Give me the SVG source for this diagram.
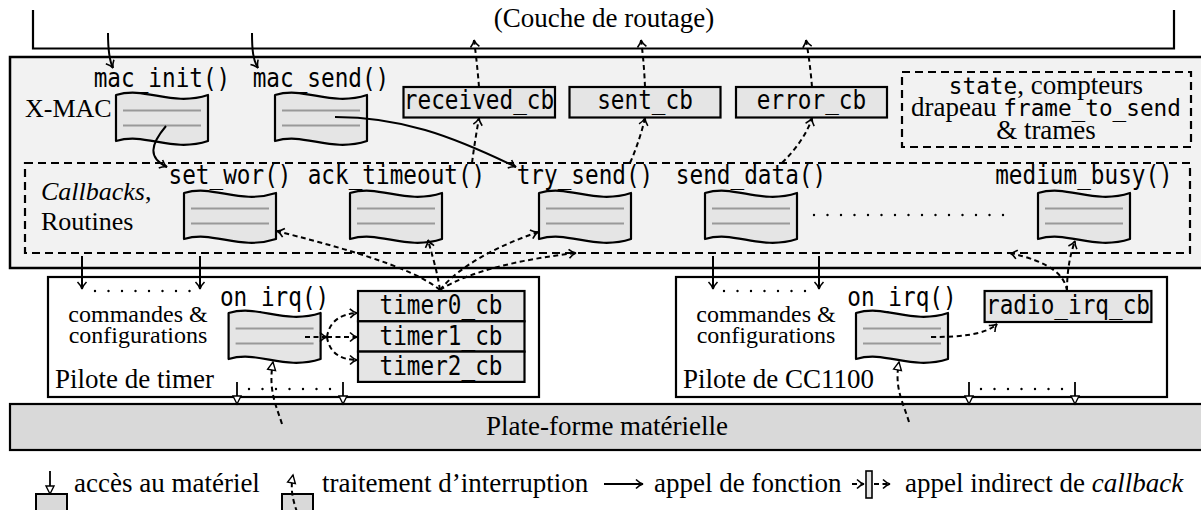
<svg xmlns="http://www.w3.org/2000/svg" width="1201" height="510" viewBox="0 0 1201 510">
<defs>
<style>
.s{font-family:"Liberation Serif","Times New Roman",serif;font-size:27px;fill:#000}
.sm{font-size:24px}
.sn{font-size:26px}
.m{font-family:"DejaVu Sans Mono","Liberation Mono",monospace;font-size:26px;fill:#000}
.mt{font-family:"DejaVu Sans Mono","Liberation Mono",monospace;font-size:22.7px}
.mid{text-anchor:middle}
.doc{fill:#e5e5e5;stroke:#000;stroke-width:2.2;stroke-linejoin:round}
.dl{stroke:#999;stroke-width:2;fill:none}
.cb{fill:#e5e5e5;stroke:#000;stroke-width:2.2}
.box{fill:#fff;stroke:#000;stroke-width:2.2}
.dbox{fill:none;stroke:#000;stroke-width:2.2;stroke-dasharray:8 5}
.call{fill:none;stroke:#000;stroke-width:2;marker-end:url(#arr)}
.ind{fill:none;stroke:#000;stroke-width:2;stroke-dasharray:5 3.5;marker-end:url(#arr)}
.irq{fill:none;stroke:#000;stroke-width:2;stroke-dasharray:5 3.5;marker-end:url(#tri)}
.hw{fill:none;stroke:#000;stroke-width:1.8;marker-end:url(#tri)}
.dot{fill:none;stroke:#000;stroke-width:2.4;stroke-linecap:round;stroke-dasharray:0 13.5}
</style>
<marker id="arr" markerUnits="userSpaceOnUse" viewBox="-9 -6 11 12" refX="0" refY="0" markerWidth="11" markerHeight="12" orient="auto" overflow="visible">
<path d="M-7,-4.5 C-4,-1.5 -2,-0.5 0,0 C-2,0.5 -4,1.5 -7,4.5" fill="none" stroke="#000" stroke-width="1.6" stroke-dasharray="none"/>
</marker>
<marker id="tri" markerUnits="userSpaceOnUse" viewBox="-10 -6 12 12" refX="0" refY="0" markerWidth="12" markerHeight="12" orient="auto" overflow="visible">
<path d="M-8,-4 L0,0 L-8,4 Z" fill="#fff" stroke="#000" stroke-width="1.4" stroke-dasharray="none"/>
</marker>
<g id="tape">
<path class="doc" d="M0,0 C30,-9 55,12 92,0 L92,46 C55,58 30,37 0,46 Z"/>
<path class="dl" d="M7,15.5 H85 M7,30.5 H85"/>
</g>
</defs>

<rect width="1201" height="510" fill="#fff"/>

<g id="routing">
<path d="M33,10 V48.5 H1174 V10" fill="none" stroke="#000" stroke-width="2.2"/>
<text class="s mid" x="604" y="27">(Couche de routage)</text>
</g>

<g id="xmac">
<rect x="10" y="57" width="1200" height="211" fill="#f2f2f2" stroke="#000" stroke-width="2.5"/>
<text class="s sn" x="25" y="117">X-MAC</text>
</g>

<g id="state">
<rect class="dbox" x="902" y="72" width="289" height="75"/>
<text class="s mid" x="1046" y="94"><tspan class="mt">state</tspan>, compteurs</text>
<text class="s mid" x="1046" y="116">drapeau <tspan class="mt">frame_to_send</tspan></text>
<text class="s mid" x="1046" y="139">&amp; trames</text>
</g>

<g id="callbacks">
<rect class="dbox" x="25" y="163" width="1165" height="90"/>
<text class="s sn" x="41" y="200"><tspan font-style="italic">Callbacks</tspan>,</text>
<text class="s sn" x="41" y="230">Routines</text>
<path class="dot" d="M814,215 H1014"/>
</g>

<g id="mac_init"><use href="#tape" transform="translate(116,95)"/><text class="m mid" x="162" y="87" textLength="136.6" lengthAdjust="spacingAndGlyphs">mac_init()</text></g>
<g id="mac_send"><use href="#tape" transform="translate(275,95)"/><text class="m mid" x="321" y="87" textLength="136.6" lengthAdjust="spacingAndGlyphs">mac_send()</text></g>
<g id="received_cb"><rect class="cb" x="403.5" y="87" width="151.5" height="30.5"/><text class="m mid" x="479" y="109" textLength="150.3" lengthAdjust="spacingAndGlyphs">received_cb</text></g>
<g id="sent_cb"><rect class="cb" x="569.5" y="87" width="151" height="30.5"/><text class="m mid" x="645" y="109" textLength="95.6" lengthAdjust="spacingAndGlyphs">sent_cb</text></g>
<g id="error_cb"><rect class="cb" x="736" y="87" width="151" height="30.5"/><text class="m mid" x="811.5" y="109" textLength="109.3" lengthAdjust="spacingAndGlyphs">error_cb</text></g>

<g id="set_wor"><use href="#tape" transform="translate(184,193)"/><text class="m mid" x="230" y="184" textLength="122.9" lengthAdjust="spacingAndGlyphs">set_wor()</text></g>
<g id="ack_timeout"><use href="#tape" transform="translate(350,193)"/><text class="m mid" x="396.5" y="184" textLength="177.6" lengthAdjust="spacingAndGlyphs">ack_timeout()</text></g>
<g id="try_send"><use href="#tape" transform="translate(539,193)"/><text class="m mid" x="585" y="184" textLength="136.6" lengthAdjust="spacingAndGlyphs">try_send()</text></g>
<g id="send_data"><use href="#tape" transform="translate(705,193)"/><text class="m mid" x="751" y="184" textLength="150.3" lengthAdjust="spacingAndGlyphs">send_data()</text></g>
<g id="medium_busy"><use href="#tape" transform="translate(1038,193)"/><text class="m mid" x="1084" y="184" textLength="177.6" lengthAdjust="spacingAndGlyphs">medium_busy()</text></g>

<g id="timer_driver">
<rect class="box" x="48" y="277" width="491" height="120"/>
<text class="s sm mid" x="138" y="322">commandes &amp;</text>
<text class="s sm mid" x="138" y="343">configurations</text>
<text class="s" x="55" y="388">Pilote de timer</text>
</g>
<g id="timer_on_irq"><use href="#tape" transform="translate(228.6,313)"/><text class="m mid" x="274.6" y="306" textLength="109.3" lengthAdjust="spacingAndGlyphs">on_irq()</text></g>
<g id="timer0_cb"><rect class="cb" x="358" y="291" width="166.5" height="30.3"/><text class="m mid" x="441" y="314" textLength="122.9" lengthAdjust="spacingAndGlyphs">timer0_cb</text></g>
<g id="timer1_cb"><rect class="cb" x="358" y="321.3" width="166.5" height="30.3"/><text class="m mid" x="441" y="344.5" textLength="122.9" lengthAdjust="spacingAndGlyphs">timer1_cb</text></g>
<g id="timer2_cb"><rect class="cb" x="358" y="351.6" width="166.5" height="30.3"/><text class="m mid" x="441" y="375" textLength="122.9" lengthAdjust="spacingAndGlyphs">timer2_cb</text></g>

<g id="cc1100_driver">
<rect class="box" x="676" y="277" width="491" height="120"/>
<text class="s sm mid" x="766" y="322">commandes &amp;</text>
<text class="s sm mid" x="766" y="343">configurations</text>
<text class="s" x="683" y="388">Pilote de CC1100</text>
</g>
<g id="cc1100_on_irq"><use href="#tape" transform="translate(856,313)"/><text class="m mid" x="902" y="306" textLength="109.3" lengthAdjust="spacingAndGlyphs">on_irq()</text></g>
<g id="radio_irq_cb"><rect class="cb" x="984.6" y="291" width="166.8" height="31"/><text class="m mid" x="1068" y="314" textLength="163.9" lengthAdjust="spacingAndGlyphs">radio_irq_cb</text></g>

<g id="platform">
<rect x="10" y="404" width="1200" height="46" fill="#d9d9d9" stroke="#000" stroke-width="2.2"/>
<text class="s mid" x="607" y="435">Plate-forme matérielle</text>
</g>

<g id="connectors">
<path class="call" d="M108,33 C108,50 109,60 113,68"/>
<path class="call" d="M252,33 C252,50 253,60 258,68"/>
<path class="call" d="M166,126 C150,145 148,158 167,167"/>
<path class="call" d="M335,117 C400,117 450,135 516,167"/>

<path class="ind" d="M472,163 Q475,140 479,118"/>
<path class="ind" d="M479,87 Q477,62 474,40"/>
<path class="ind" d="M630,163 Q640,140 645,118"/>
<path class="ind" d="M645,87 Q644,62 641,40"/>
<path class="ind" d="M782,163 Q805,140 812,118"/>
<path class="ind" d="M812,87 Q810,62 806,40"/>

<path class="ind" d="M440,290 C410,265 330,245 277,231"/>
<path class="ind" d="M440,290 C437,270 432,255 428,240"/>
<path class="ind" d="M440,290 C460,265 500,245 538,232"/>
<path class="ind" d="M440,290 C470,270 530,258 576,253"/>

<path class="ind" d="M1067,291 C1067,270 1070,255 1075,241"/>
<path class="ind" d="M1067,291 C1065,275 1050,262 1010,253"/>

<path class="call" d="M82,256 V289"/>
<path class="call" d="M200,256 V289"/>
<path class="dot" d="M95,291 H190"/>
<path class="call" d="M713,256 V289"/>
<path class="call" d="M819,256 V289"/>
<path class="dot" d="M724,291 H808"/>

<path class="ind" d="M305,337 H327" marker-end="none"/>
<path class="ind" d="M327,337 C329,322 340,314 357,313"/>
<path class="ind" d="M327,337 H357"/>
<path class="ind" d="M327,337 C329,352 340,360 357,360"/>
<path class="ind" d="M931,337 C960,337 985,335 997,324"/>

<path class="irq" d="M282,424 C276,405 268,390 273,362"/>
<path class="irq" d="M909,422 C903,402 894,388 899,362"/>

<path class="hw" d="M237,382 V404"/>
<path class="hw" d="M343,382 V404"/>
<path class="dot" d="M249,389 H333"/>
<path class="hw" d="M969,382 V404"/>
<path class="hw" d="M1075,382 V404"/>
<path class="dot" d="M981,389 H1065"/>
</g>

<g id="legend">
<path class="hw" d="M50,471 V494"/>
<rect x="36" y="494" width="31" height="20" fill="#d9d9d9" stroke="#000" stroke-width="2"/>
<text class="s" x="74" y="492">accès au matériel</text>
<rect x="282" y="494" width="31" height="20" fill="#d9d9d9" stroke="#000" stroke-width="2"/>
<path class="irq" d="M297,512 C293,500 290,490 293,475"/>
<text class="s" x="322" y="492">traitement d’interruption</text>
<path class="call" d="M604,484 H643"/>
<text class="s" x="654" y="492">appel de fonction</text>
<path class="ind" d="M852,484 H864"/>
<rect x="866" y="471" width="6" height="27" fill="#e5e5e5" stroke="#000" stroke-width="1.6"/>
<path class="ind" d="M874,484 H890"/>
<text class="s" x="905" y="492">appel indirect de <tspan font-style="italic">callback</tspan></text>
</g>
</svg>
